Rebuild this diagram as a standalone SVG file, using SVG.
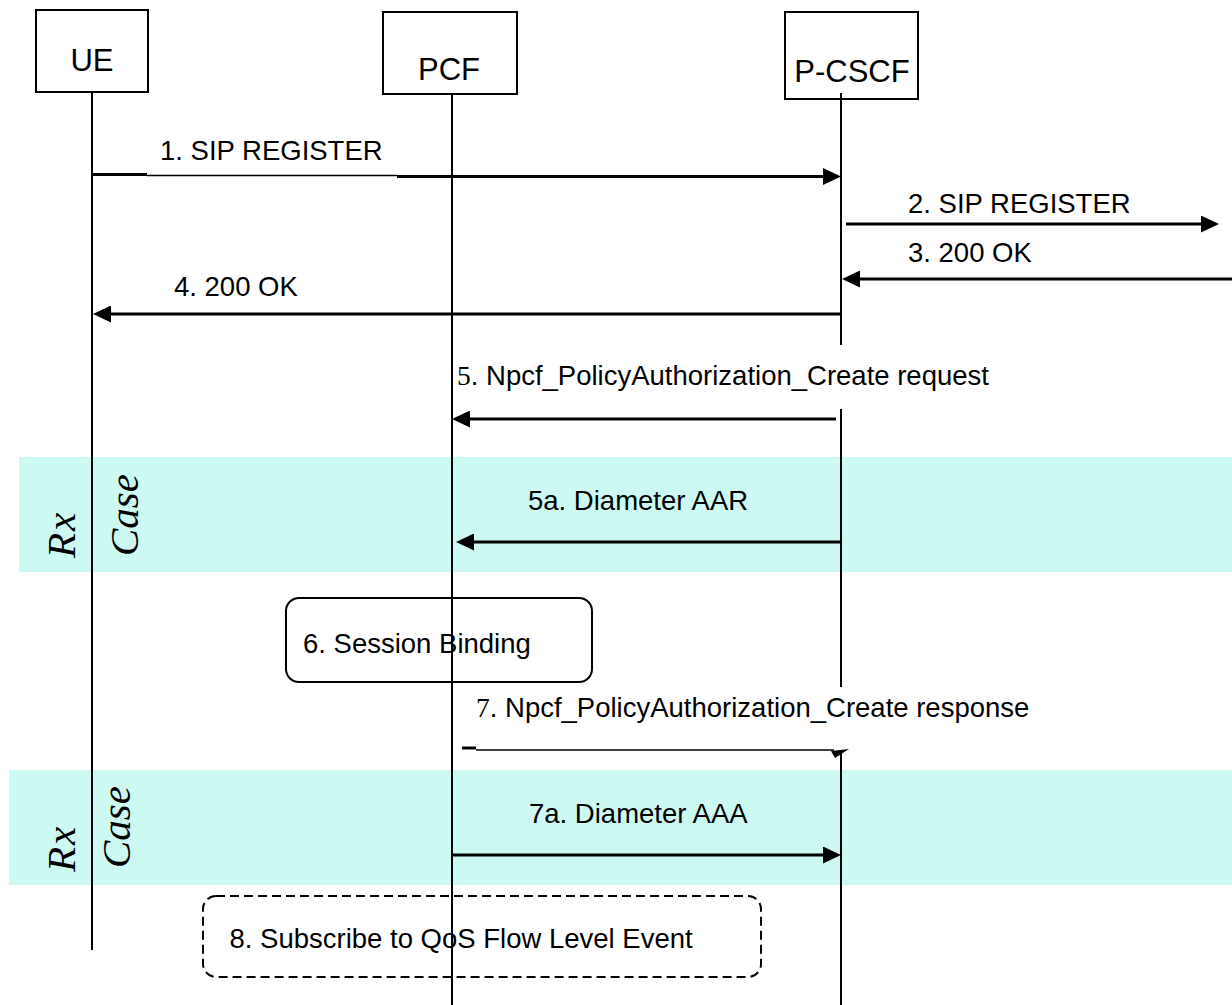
<svg xmlns="http://www.w3.org/2000/svg" width="1232" height="1005" viewBox="0 0 1232 1005">
<style>
.box{fill:#fff;stroke:#000;stroke-width:2}
.life{stroke:#000;stroke-width:2;fill:none}
.msg{stroke:#000;stroke-width:3;fill:none}
.thin{stroke:#000;stroke-width:1.3;fill:none}
.lbl{font-family:"Liberation Sans",Arial,sans-serif;font-size:27.5px;fill:#000}
.nlbl{font-family:"Liberation Sans",Arial,sans-serif;font-size:31px;fill:#000;text-anchor:middle}
.num{font-family:"Liberation Serif","Times New Roman",serif}
.it{font-family:"Liberation Serif","Times New Roman",serif;font-style:italic;font-size:41px;fill:#000}
.band{fill:#ccfaf3}
.proc{fill:none;stroke:#000;stroke-width:2}
</style>
<defs>
<marker id="ah" markerUnits="userSpaceOnUse" markerWidth="18" markerHeight="17" viewBox="0 0 18 17" refX="0" refY="8.5" orient="auto">
<path d="M0,0 L18,8.5 L0,17 z" fill="#000"/>
</marker>
</defs>

<g id="bands">
<rect class="band" x="19" y="457" width="1213" height="115"/>
<rect class="band" x="9" y="770" width="1223" height="115"/>
<text class="it" transform="translate(75,558) rotate(-90)" letter-spacing="2">Rx</text>
<text class="it" transform="translate(138,556) rotate(-90)">Case</text>
<text class="it" transform="translate(75,872) rotate(-90)" letter-spacing="2">Rx</text>
<text class="it" transform="translate(130,868) rotate(-90)">Case</text>
</g>

<g id="proc6">
<rect class="proc" x="286" y="598" width="306" height="84" rx="13" ry="13"/>
<text class="lbl" x="303" y="653">6. Session Binding</text>
</g>

<g id="proc8">
<rect class="proc" x="203" y="896" width="558" height="81" rx="13" ry="13" stroke-dasharray="9,5"/>
<text class="lbl" x="229.5" y="948">8. Subscribe to QoS Flow Level Event</text>
</g>

<g id="UE">
<rect class="box" x="36" y="10" width="112" height="82"/>
<text class="nlbl" x="92" y="71">UE</text>
<line class="life" x1="92" y1="92" x2="92" y2="950"/>
</g>

<g id="PCF">
<rect class="box" x="383" y="12" width="134" height="82"/>
<text class="nlbl" x="449" y="80">PCF</text>
<line class="life" x1="452" y1="94" x2="452" y2="1005"/>
</g>

<g id="P-CSCF">
<rect class="box" x="785" y="12" width="133" height="87"/>
<text class="nlbl" x="852" y="82">P-CSCF</text>
<path class="life" d="M841,93 V345 M841,409 V687 M841,750 V1005"/>
</g>

<g id="connectors">
<path class="msg" d="M92,174.5 H147" stroke-width="2.5"/>
<path class="thin" d="M147,175.5 H397"/>
<path class="msg" d="M397,176.5 H823" stroke-width="2.5" marker-end="url(#ah)"/>
<text class="lbl" x="160" y="160">1. SIP REGISTER</text>

<path class="msg" d="M846,224 H1201" marker-end="url(#ah)"/>
<text class="lbl" x="908" y="213">2. SIP REGISTER</text>

<path class="msg" d="M1232,279 H860" marker-end="url(#ah)"/>
<text class="lbl" x="908" y="262">3. 200 OK</text>

<path class="msg" d="M841,314 H111" marker-end="url(#ah)"/>
<text class="lbl" x="174" y="296">4. 200 OK</text>

<path class="msg" d="M836,419 H470" marker-end="url(#ah)"/>
<text class="lbl" x="457" y="385"><tspan class="num">5</tspan>. Npcf_PolicyAuthorization_Create request</text>

<path class="msg" d="M841,542 H474" marker-end="url(#ah)"/>
<text class="lbl" x="528" y="510">5a. Diameter AAR</text>

<path class="msg" d="M462,748 H476" stroke-width="2.5"/>
<path class="thin" d="M476,750 H834" stroke-width="1"/>
<polygon points="831,751 849,749 835,758" fill="#000"/>
<text class="lbl" x="476" y="717"><tspan class="num">7</tspan>. Npcf_PolicyAuthorization_Create response</text>

<path class="msg" d="M452,855 H823" marker-end="url(#ah)"/>
<text class="lbl" x="529" y="823">7a. Diameter AAA</text>
</g>
</svg>
